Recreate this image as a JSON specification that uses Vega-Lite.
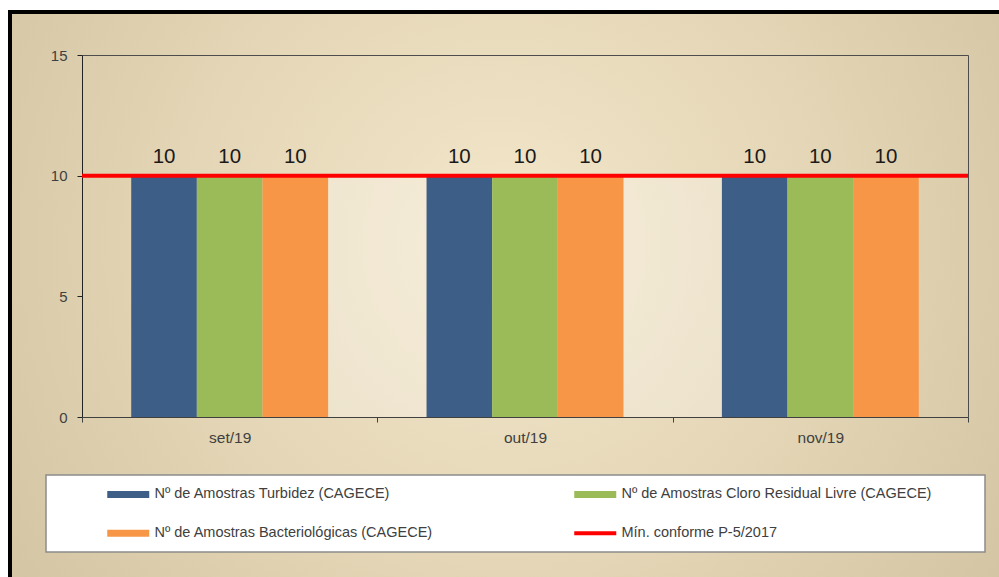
{
  "$schema": "https://vega.github.io/schema/vega-lite/v6.json",
  "width": 989,
  "height": 565,
  "autosize": {"type": "none"},
  "padding": {"left": 10, "top": 12, "right": 0, "bottom": 0},
  "background": "#ffffff",
  "config": {
    "font": "Liberation Sans",
    "view": {
      "fill": {
        "gradient": "radial",
        "x1": 0.5, "y1": 0.45, "r1": 0,
        "x2": 0.5, "y2": 0.45, "r2": 0.72,
        "stops": [
          {"offset": 0, "color": "#F4E7CB"},
          {"offset": 0.55, "color": "#E0D2B1"},
          {"offset": 1, "color": "#CDBF9C"}
        ]
      },
      "stroke": "#000000",
      "strokeWidth": 4,
      "strokeDash": [989, 1554, 565]
    },
    "legend": {"strokeWidth": 1.5}
  },
  "datasets": {
    "bars": [
      {"month": "set/19", "series": "Nº de Amostras Turbidez (CAGECE)", "value": 10},
      {"month": "set/19", "series": "Nº de Amostras Cloro Residual Livre (CAGECE)", "value": 10},
      {"month": "set/19", "series": "Nº de Amostras Bacteriológicas (CAGECE)", "value": 10},
      {"month": "out/19", "series": "Nº de Amostras Turbidez (CAGECE)", "value": 10},
      {"month": "out/19", "series": "Nº de Amostras Cloro Residual Livre (CAGECE)", "value": 10},
      {"month": "out/19", "series": "Nº de Amostras Bacteriológicas (CAGECE)", "value": 10},
      {"month": "nov/19", "series": "Nº de Amostras Turbidez (CAGECE)", "value": 10},
      {"month": "nov/19", "series": "Nº de Amostras Cloro Residual Livre (CAGECE)", "value": 10},
      {"month": "nov/19", "series": "Nº de Amostras Bacteriológicas (CAGECE)", "value": 10}
    ]
  },
  "layer": [
    {
      "data": {"values": [
        {"from": "set/19", "to": "out/19", "value": 10},
        {"from": "out/19", "to": "nov/19", "value": 10}
      ]},
      "mark": {"type": "rect", "fill": "#ffffff", "fillOpacity": 0.28},
      "encoding": {
        "x": {
          "field": "from", "type": "nominal", "bandPosition": 0.8333333,
          "scale": {"domain": ["set/19", "out/19", "nov/19"], "range": [72, 958], "paddingInner": 0, "paddingOuter": 0},
          "axis": {
            "orient": "bottom", "offset": -160, "title": null, "labelAngle": 0,
            "tickBand": "extent", "tickSize": 5, "tickColor": "#404040",
            "domainColor": "#404040", "labelFontSize": 15.5, "labelColor": "#404040",
            "labelPadding": 8, "labelFont": "Liberation Sans", "grid": false
          }
        },
        "x2": {"field": "to", "bandPosition": 0.1666667},
        "y": {
          "field": "value", "type": "quantitative",
          "scale": {"domain": [0, 15], "range": [405, 43], "nice": false, "zero": true},
          "axis": {
            "orient": "left", "offset": -72, "title": null, "values": [0, 5, 10, 15],
            "tickSize": 5, "tickColor": "#222222", "domainColor": "#222222",
            "labelFontSize": 15, "labelColor": "#404040", "labelPadding": 10,
            "labelFont": "Liberation Sans", "grid": false
          }
        },
        "y2": {"datum": 0}
      }
    },
    {
      "data": {"name": "bars"},
      "mark": {"type": "bar"},
      "encoding": {
        "x": {
          "field": "month", "type": "nominal",
          "axis": {"orient": "top", "offset": -43, "title": null, "labels": false, "ticks": false, "domain": true, "domainColor": "#4d4d4d", "grid": false}
        },
        "xOffset": {
          "field": "series", "type": "nominal",
          "scale": {"domain": ["Nº de Amostras Turbidez (CAGECE)", "Nº de Amostras Cloro Residual Livre (CAGECE)", "Nº de Amostras Bacteriológicas (CAGECE)"], "paddingInner": 0, "paddingOuter": 0.75}
        },
        "y": {
          "field": "value", "type": "quantitative",
          "axis": {"orient": "right", "offset": -31, "title": null, "labels": false, "ticks": false, "domain": true, "domainColor": "#4d4d4d", "grid": false}
        },
        "color": {
          "field": "series", "type": "nominal",
          "scale": {
            "domain": ["Nº de Amostras Turbidez (CAGECE)", "Nº de Amostras Cloro Residual Livre (CAGECE)", "Nº de Amostras Bacteriológicas (CAGECE)", "Mín. conforme P-5/2017"],
            "range": ["#3D5E87", "#9BBB59", "#F79646", "#FF0000"]
          },
          "legend": {
            "orient": "none", "legendX": 36, "legendY": 463,
            "columns": 2, "direction": "horizontal",
            "title": " ", "titleOrient": "right", "titleFontSize": 10, "titlePadding": 41,
            "padding": 12, "fillColor": "#ffffff", "strokeColor": "#8c8c8c",
            "symbolSize": 196, "symbolType": "M-1,-0.5H5V0.5H-1Z", "symbolStrokeWidth": 0,
            "symbolOffset": 49,
            "labelOffset": 33, "labelFont": "Liberation Sans", "labelFontSize": 14.5,
            "labelColor": "#404040", "labelLimit": 800,
            "rowPadding": 24, "columnPadding": 92,
            "encode": {
              "symbols": {
                "update": {
                  "shape": {"signal": "datum.value === 'Mín. conforme P-5/2017' ? 'M-1,-0.28H5V0.28H-1Z' : 'M-1,-0.5H5V0.5H-1Z'"},
                  "strokeWidth": {"value": 0}
                }
              }
            }
          }
        }
      }
    },
    {
      "data": {"name": "bars"},
      "mark": {"type": "text", "fontSize": 20.5, "baseline": "alphabetic", "dy": -13, "color": "#1a1a1a", "font": "Liberation Sans"},
      "encoding": {
        "x": {"field": "month", "type": "nominal", "axis": null},
        "xOffset": {"field": "series", "type": "nominal"},
        "y": {"field": "value", "type": "quantitative", "axis": null},
        "text": {"field": "value", "type": "quantitative"}
      }
    },
    {
      "data": {"values": [{"value": 10}]},
      "mark": {"type": "rule", "color": "#FF0000", "strokeWidth": 4},
      "encoding": {
        "x": {"datum": "set/19", "type": "nominal", "bandPosition": 0, "axis": null},
        "x2": {"datum": "nov/19", "bandPosition": 1},
        "y": {"field": "value", "type": "quantitative", "axis": null}
      }
    }
  ],
  "resolve": {"axis": {"x": "independent", "y": "independent"}}
}
